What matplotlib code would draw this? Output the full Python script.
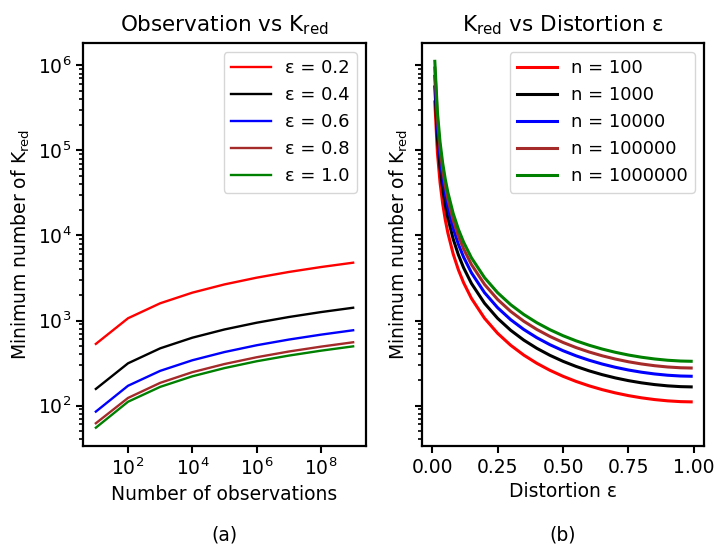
import matplotlib
matplotlib.use("Agg")
import matplotlib.pyplot as plt
from matplotlib.ticker import NullLocator, FixedLocator

# ---- left panel data: minimum K_red vs number of observations ----
n_obs = [1e1, 1e2, 1e3, 1e4, 1e5, 1e6, 1e7, 1e8, 1e9]
x_ticks = [1e2, 1e4, 1e6, 1e8]
eps_labels = ["ε = 0.2", "ε = 0.4", "ε = 0.6", "ε = 0.8", "ε = 1.0"]
k_eps02 = [531, 1063, 1594, 2125, 2657, 3188, 3720, 4251, 4783]
k_eps04 = [157, 314, 471, 628, 785, 942, 1099, 1256, 1413]
k_eps06 = [85, 171, 256, 341, 426, 512, 597, 682, 768]
k_eps08 = [62, 123, 185, 247, 308, 370, 432, 493, 555]
k_eps10 = [55, 111, 166, 221, 276, 332, 387, 442, 497]

# ---- right panel data: minimum K_red vs distortion ----
eps = [0.01, 0.02, 0.03, 0.04, 0.05, 0.06, 0.08, 0.10, 0.12, 0.15, 0.20, 0.25,
       0.30, 0.35, 0.40, 0.45, 0.50, 0.55, 0.60, 0.65, 0.70, 0.75, 0.80, 0.85,
       0.90, 0.95, 0.99]
n_labels = ["n = 100", "n = 1000", "n = 10000", "n = 100000", "n = 1000000"]
k_n100 = [370890, 93348, 41770, 23657, 15245, 10660, 6081, 3947, 2781, 1819, 1063,
          707.4, 511.7, 392.3, 314.0, 259.9, 221.0, 192.3, 170.6, 153.9, 141.0,
          131.0, 123.4, 117.7, 113.7, 111.3, 110.6]
k_n1000 = [556335, 140022, 62655, 35486, 22868, 15990, 9122, 5921, 4172, 2729, 1595,
           1061, 767.6, 588.5, 471.0, 389.9, 331.5, 288.5, 255.9, 230.9, 211.5,
           196.5, 185.1, 176.6, 170.6, 167.0, 165.9]
k_n1e4 = [741780, 186696, 83540, 47314, 30490, 21320, 12162, 7894, 5562, 3638, 2126,
          1415, 1023, 784.6, 628.0, 519.8, 442.0, 384.6, 341.2, 307.8, 282.0,
          262.0, 246.8, 235.4, 227.4, 222.6, 221.2]
k_n1e5 = [927225, 233370, 104425, 59143, 38113, 26650, 15203, 9868, 6953, 4548, 2658,
          1769, 1279, 980.8, 785.0, 649.8, 552.5, 480.8, 426.5, 384.8, 352.5,
          327.5, 308.5, 294.3, 284.3, 278.3, 276.5]
k_n1e6 = [1112670, 280044, 125310, 70971, 45735, 31980, 18243, 11841, 8343, 5457, 3189,
          2122, 1535, 1177, 942.0, 779.7, 663.0, 576.9, 511.8, 461.7, 423.0,
          393.0, 370.2, 353.1, 341.1, 333.9, 331.8]

colors = ["red", "black", "blue", "brown", "green"]

W, H = 714, 547
fig = plt.figure(figsize=(W / 100, H / 100), dpi=100)
ax1 = fig.add_axes([83 / W, 1 - 446 / H, 283 / W, 403 / H])
ax2 = fig.add_axes([422 / W, 1 - 446 / H, 282 / W, 403 / H], sharey=ax1)

TICK = 13.5
for ys, lab, c in zip([k_eps02, k_eps04, k_eps06, k_eps08, k_eps10], eps_labels, colors):
    ax1.plot(n_obs, ys, color=c, lw=1.7, label=lab)
ax1.set_xscale("log")
ax1.set_yscale("log")
ax1.xaxis.set_major_locator(FixedLocator(x_ticks))
ax1.xaxis.set_minor_locator(NullLocator())
ax1.set_title("Observation vs K$_{\\rm red}$", fontsize=15.5, pad=8)
ax1.set_xlabel("Number of observations", fontsize=TICK)
ax1.set_ylabel("Minimum number of K$_{\\rm red}$", fontsize=TICK)
ax1.legend(loc="upper right", fontsize=13, handlelength=2.2)

for ys, lab, c in zip([k_n100, k_n1000, k_n1e4, k_n1e5, k_n1e6], n_labels, colors):
    ax2.plot(eps, ys, color=c, lw=2.2, label=lab)
ax2.set_title("K$_{\\rm red}$ vs Distortion ε", fontsize=15.5, pad=8)
ax2.set_xlabel("Distortion ε", fontsize=TICK)
ax2.set_ylabel("Minimum number of K$_{\\rm red}$", fontsize=TICK)
ax2.set_xticks([0.0, 0.25, 0.5, 0.75, 1.0])
ax2.tick_params(axis="y", which="both", labelleft=False)
ax2.legend(loc="upper right", fontsize=13, handlelength=2.2)

for ax in (ax1, ax2):
    for s in ax.spines.values():
        s.set_linewidth(1.6)
    ax.tick_params(which="major", labelsize=TICK, width=1.5, length=5)
    ax.tick_params(which="minor", width=1.2, length=3)

fig.text((83 + 366) / 2 / W, 1 - 535 / H, "(a)", ha="center", va="center", fontsize=13.5)
fig.text((422 + 704) / 2 / W, 1 - 535 / H, "(b)", ha="center", va="center", fontsize=13.5)

fig.savefig("out.png", dpi=100)
